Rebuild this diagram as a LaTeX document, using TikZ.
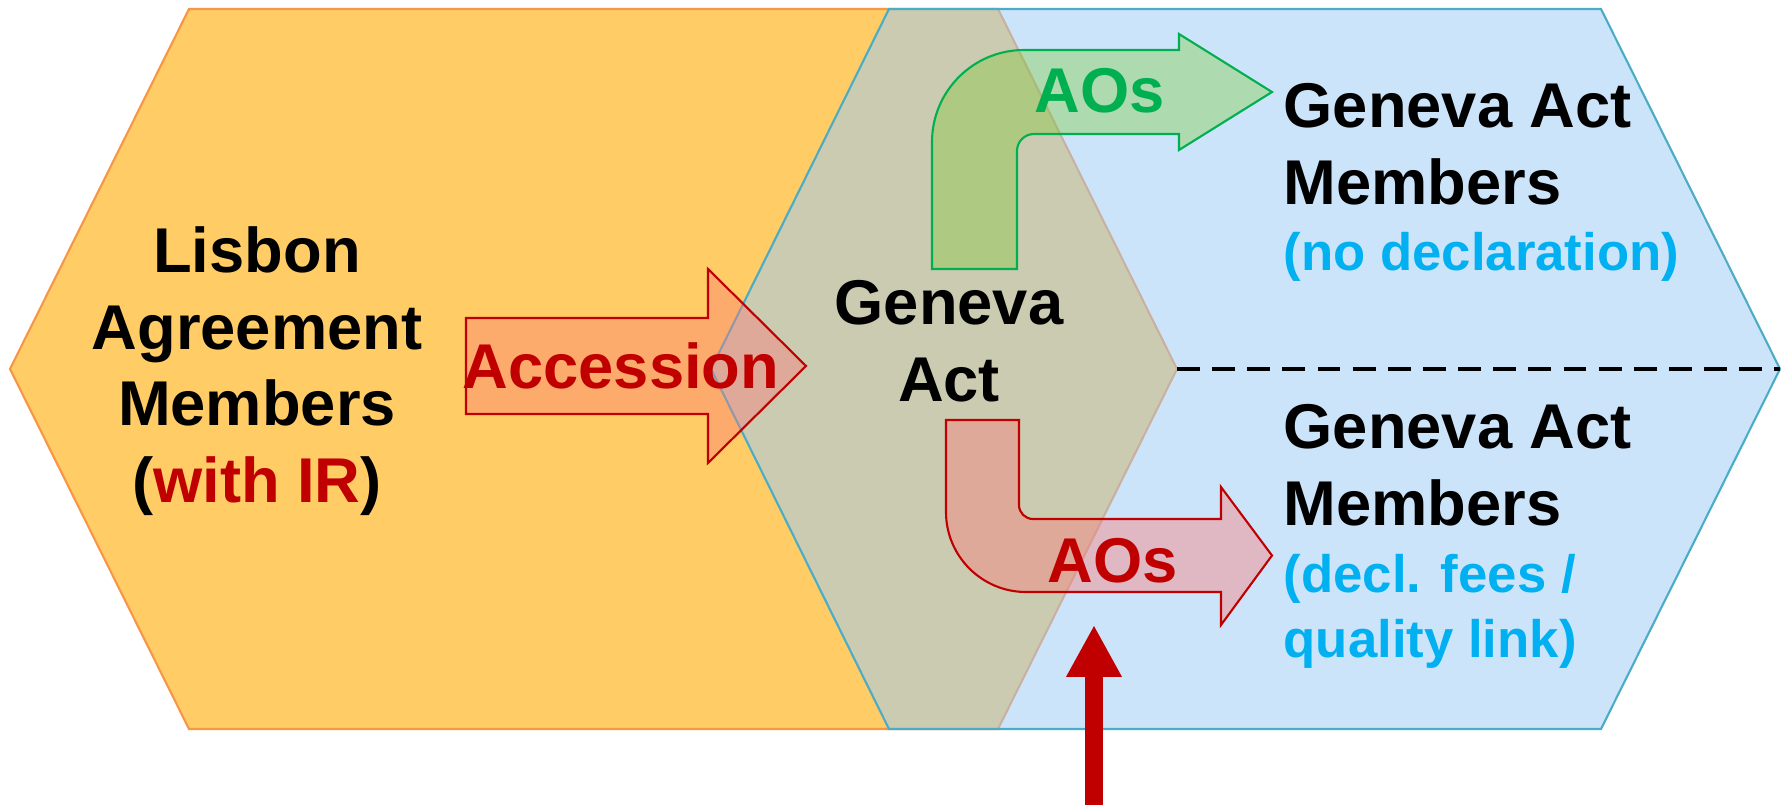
\documentclass[tikz,border=0pt]{standalone}
\usepackage{fontspec}
\setmainfont{Liberation Sans}
\usepackage{xcolor}
\usetikzlibrary{arrows.meta}

\definecolor{lisbonfill}{RGB}{255,204,102}
\definecolor{lisbonline}{RGB}{247,150,70}
\definecolor{genevafill}{RGB}{157,203,246}
\definecolor{genevaline}{RGB}{75,172,198}
\definecolor{darkred}{RGB}{192,0,0}
\definecolor{aogreen}{RGB}{0,176,80}
\definecolor{declblue}{RGB}{0,176,240}
\definecolor{redarrow}{RGB}{251,124,121}
\definecolor{greenarrow}{RGB}{120,200,40}

\tikzset{
  bigtext/.style={font=\fontsize{18}{21.8}\selectfont\bfseries, inner sep=0pt},
  notetext/.style={font=\fontsize{15}{18.5}\selectfont\bfseries, inner sep=0pt, text=declblue},
}

\begin{document}
\begin{tikzpicture}
\useasboundingbox (0,0) rectangle (17.83,8.05);
%% Lisbon hexagon
\draw[lisbonline, fill=lisbonfill, line width=0.6pt] (0.10,4.36) -- (1.89,7.96) -- (9.98,7.96) -- (11.77,4.36) -- (9.98,0.76) -- (1.89,0.76) -- cycle;
%% Geneva Act hexagon
\draw[genevaline, fill=genevafill, fill opacity=0.52, line width=0.6pt] (7.11,4.36) -- (8.89,7.96) -- (16.01,7.96) -- (17.80,4.36) -- (16.01,0.76) -- (8.89,0.76) -- cycle;
%%
\coordinate (split) at (11.77,4.36);
\coordinate (splitend) at (17.80,4.36);
\draw[black, line width=1.1pt, dash pattern=on 6.5pt off 3.5pt] (split) -- (splitend);
%% arrows
\draw[darkred, fill=redarrow, fill opacity=0.42, line width=0.6pt] (4.66,4.87) -- (7.08,4.87) -- (7.08,5.36) -- (8.06,4.39) -- (7.08,3.42) -- (7.08,3.91) -- (4.66,3.91) -- cycle;
\draw[aogreen, fill=greenarrow, fill opacity=0.35, line width=0.6pt] (9.32,5.36) -- (9.32,6.63) arc[start angle=180, end angle=90, radius=0.92] -- (11.79,7.55) -- (11.79,7.71) -- (12.72,7.13) -- (11.79,6.55) -- (11.79,6.71) -- (10.34,6.71) arc[start angle=90, end angle=180, radius=0.17] -- (10.17,5.36) -- cycle;
\draw[darkred, fill=redarrow, fill opacity=0.42, line width=0.6pt] (9.46,3.85) -- (9.46,2.93) arc[start angle=180, end angle=270, radius=0.8] -- (12.21,2.13) -- (12.21,1.80) -- (12.72,2.495) -- (12.21,3.18) -- (12.21,2.86) -- (10.33,2.86) arc[start angle=270, end angle=180, radius=0.14] -- (10.19,3.85) -- cycle;
%%
\coordinate (probefoot) at (10.94,0);
\coordinate (probetip) at (10.94,1.80);
\draw[darkred, line width=0.18cm, -{Triangle[length=0.52cm, width=0.52cm]}] (probefoot) -- (probetip);
%% labels
\node[bigtext, align=center] (lisbon) at (2.57,4.34) {Lisbon\\Agreement\\Members\\(\textcolor{darkred}{with IR})};
\node[bigtext, align=center] (geneva) at (9.49,4.64) {Geneva\\Act};
\node[bigtext, text=darkred, anchor=base] (accession) at (6.21,4.16) {Accession};
\node[bigtext, text=aogreen, anchor=base] (aosfree) at (11.00,6.92) {AOs};
\node[bigtext, text=darkred, anchor=base] (aosfee) at (11.13,2.22) {AOs};
%%
\node[bigtext, align=left, anchor=west] (freemembers) at (12.83,6.61) {Geneva Act\\Members};
\node[notetext, anchor=base west] (freenote) at (12.83,5.34) {(no declaration)};
\node[bigtext, align=left, anchor=west] (feemembers) at (12.83,3.40) {Geneva Act\\Members};
\node[notetext, align=left, anchor=west] (feenote) at (12.83,1.94) {(decl. fees /\\quality link)};
\end{tikzpicture}
\end{document}
